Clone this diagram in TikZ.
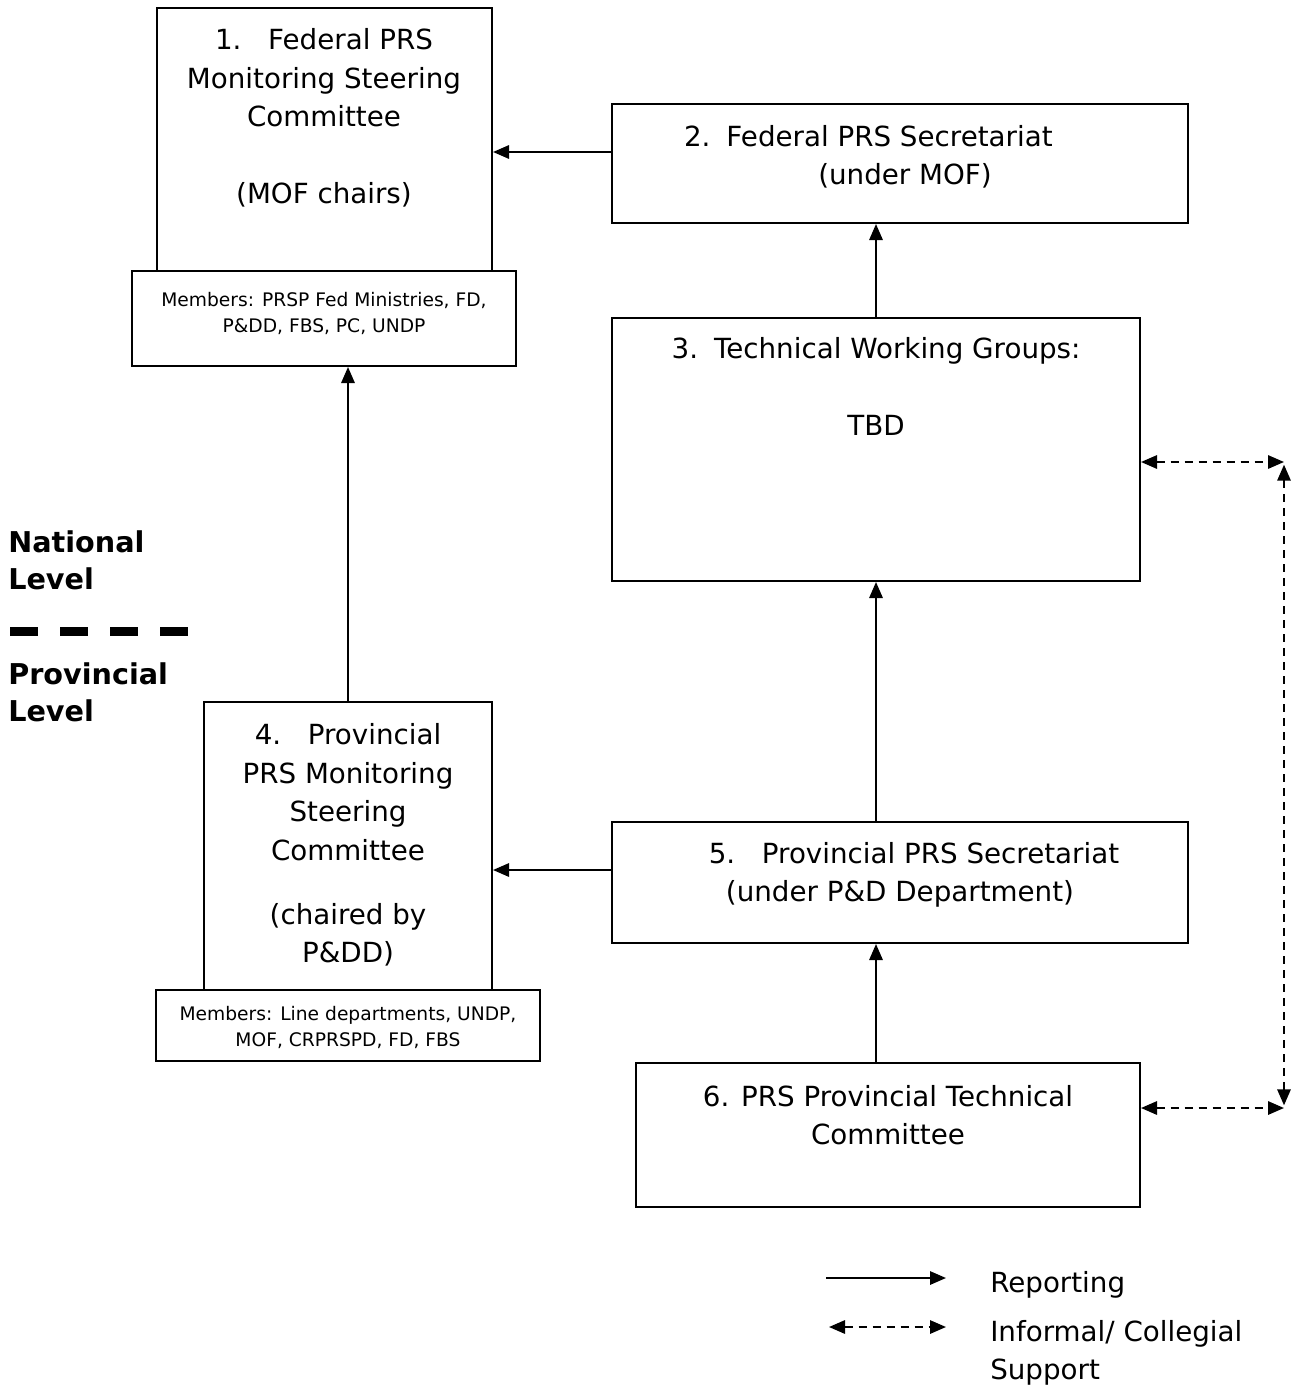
\documentclass[tikz,border=0pt]{standalone}
\usepackage{fontspec}
\setmainfont{DejaVu Sans}
\usetikzlibrary{arrows.meta,calc}
\newcommand\bigtxt{\fontsize{20.8}{28.9}\selectfont}
\newcommand\smalltxt{\fontsize{14}{19.5}\selectfont}
\newcommand\boldtxt{\fontsize{21.5}{28}\selectfont\bfseries}
\begin{document}
\begin{tikzpicture}[x=0.75pt, y=-0.75pt,
  box/.style={draw, line width=1.5pt, inner sep=0pt, fill=white},
  txt/.style={align=center, inner sep=0pt, font=\bigtxt},
  smtxt/.style={align=center, inner sep=0pt, font=\smalltxt},
  lvl/.style={align=left, inner sep=0pt, anchor=west, font=\boldtxt},
  legtxt/.style={align=left, inner sep=0pt, anchor=west, font=\bigtxt},
  rep/.style={line width=1.5pt, -{Triangle[length=12pt,width=10pt]}},
  inf/.style={line width=1.5pt, dash pattern=on 6pt off 4.5pt,
              {Triangle[length=12pt,width=10pt]}-{Triangle[length=12pt,width=10pt]}}
]
\useasboundingbox (0,0) rectangle (1298,1391);

% boxes
\node[box, minimum width=335*0.75pt, minimum height=263*0.75pt] (b1) at (324.5,139.5) {};
\node[box, minimum width=384*0.75pt, minimum height=95*0.75pt] (m1) at (324,318.5) {};
\node[box, minimum width=576*0.75pt, minimum height=119*0.75pt] (b2) at (900,163.5) {};
\node[box, minimum width=528*0.75pt, minimum height=263*0.75pt] (b3) at (876,449.5) {};
\node[box, minimum width=288*0.75pt, minimum height=288*0.75pt] (b4) at (348,846) {};
\node[box, minimum width=384*0.75pt, minimum height=71*0.75pt] (m2) at (348,1025.5) {};
\node[box, minimum width=576*0.75pt, minimum height=121*0.75pt] (b5) at (900,882.5) {};
\node[box, minimum width=504*0.75pt, minimum height=144*0.75pt] (b6) at (888,1135) {};

% texts
\node[txt] (t1) at (324,118) {1.\hspace{20pt}Federal PRS\\Monitoring Steering\\Committee\\[28.9pt](MOF chairs)};
\node[smtxt] (tm1) at (324,313) {Members: PRSP Fed Ministries, FD,\\P\&DD, FBS, PC, UNDP};
\node[txt] (t2) at (905,157) {2.\hspace{12pt}Federal PRS Secretariat\hspace*{55pt}\\(under MOF)};
\node[txt] (t3) at (876,386) {3.\hspace{12pt}Technical Working Groups:\\[28.9pt]TBD};
\node[txt] (t4) at (348,845) {4.\hspace{20pt}Provincial\\PRS Monitoring\\Steering\\Committee\\[19pt](chaired by\\P\&DD)};
\node[smtxt] (tm2) at (348,1027) {Members: Line departments, UNDP,\\MOF, CRPRSPD, FD, FBS};
\node[txt] (t5) at (900,875) {\hspace*{21pt}5.\hspace{20pt}Provincial PRS Secretariat\\(under P\&D Department)};
\node[txt] (t6) at (888,1115) {6. PRS Provincial Technical\\Committee};

% level labels
\node[lvl] (nat) at (8,560) {National\\Level};
\node[lvl] (prov) at (8,692) {Provincial\\Level};
\coordinate (sepA) at (10,631);
\coordinate (sepB) at (190,631);
\draw[line width=6.75pt, dash pattern=on 21pt off 16.5pt] (sepA) -- (sepB);

% reporting connectors
\coordinate (a12) at (0,152);
\coordinate (a54) at (0,870);
\coordinate (vx) at (876,0);
\draw[rep] (b2.west |- a12) -- (b1.east |- a12);
\draw[rep] (b3.north) -- (b3.north |- b2.south);
\draw[rep] (vx |- b5.north) -- (b3.south);
\draw[rep] (vx |- b6.north) -- (vx |- b5.south);
\draw[rep] (b4.north) -- (b4.north |- m1.south);
\draw[rep] (b5.west |- a54) -- (b4.east |- a54);

% informal connectors
\coordinate (c3) at (1284,462);
\coordinate (c6) at (1284,1108);
\draw[inf] (b3.east |- c3) -- (c3);
\draw[inf] (b6.east |- c6) -- (c6);
\draw[inf] ([yshift=-2pt]c3) -- ([yshift=2pt]c6);

% legend
\coordinate (l1a) at (826,1278);
\coordinate (l1b) at (946,1278);
\coordinate (l2a) at (829,1327);
\coordinate (l2b) at (946,1327);
\draw[rep] (l1a) -- (l1b);
\draw[inf] (l2a) -- (l2b);
\node[legtxt] (lg1) at (990,1285) {Reporting};
\node[legtxt] (lg2) at (990,1353) {Informal/ Collegial\\Support};
\end{tikzpicture}
\end{document}
